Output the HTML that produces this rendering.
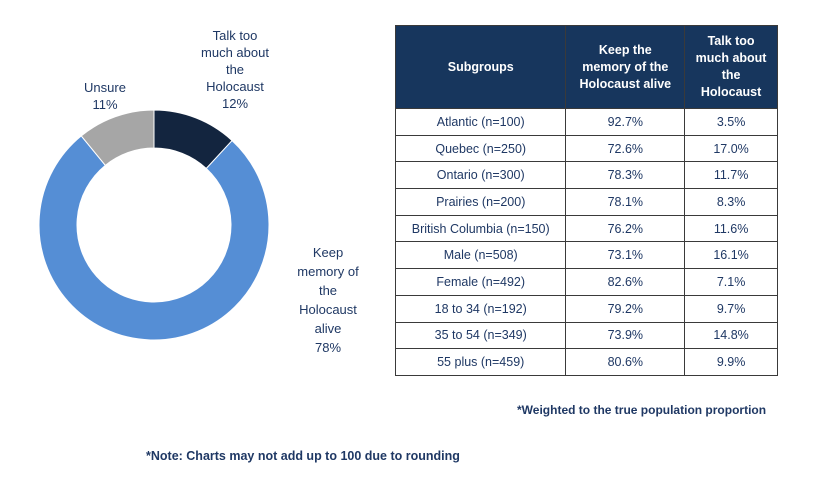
<!DOCTYPE html>
<html><head><meta charset="utf-8"><style>
body{margin:0;background:#fff;width:823px;height:486px;position:relative;font-family:"Liberation Sans",sans-serif;overflow:hidden}
.lbl{position:absolute;color:#1f3864;font-size:13px;text-align:center;line-height:17px}
table{position:absolute;left:395px;top:25px;width:383px;border-collapse:collapse;font-size:12.5px;color:#1f3864}
th{background:#17365d;color:#fff;font-weight:bold;height:80px;border:1.5px solid #3a3a3a;line-height:17px;font-size:12.5px}
td{height:25.7px;border:1.5px solid #3a3a3a;text-align:center;padding:0}
.note{position:absolute;color:#1f3864;font-weight:bold;font-size:12px}
</style></head><body>
<svg id="donut" width="823" height="486" style="position:absolute;left:0;top:0"></svg>
<div class="lbl" style="left:190px;top:27px;width:90px">Talk too<br>much about<br>the<br>Holocaust<br>12%</div>
<div class="lbl" style="left:75px;top:79px;width:60px">Unsure<br>11%</div>
<div class="lbl" style="left:278px;top:243px;width:100px;line-height:19px">Keep<br>memory of<br>the<br>Holocaust<br>alive<br>78%</div>
<table>
<colgroup><col style="width:171px"><col style="width:119px"><col style="width:93px"></colgroup>
<tr><th>Subgroups</th><th>Keep the<br>memory of the<br>Holocaust alive</th><th>Talk too<br>much about<br>the<br>Holocaust</th></tr>
<tr><td>Atlantic (n=100)</td><td>92.7%</td><td>3.5%</td></tr>
<tr><td>Quebec (n=250)</td><td>72.6%</td><td>17.0%</td></tr>
<tr><td>Ontario (n=300)</td><td>78.3%</td><td>11.7%</td></tr>
<tr><td>Prairies (n=200)</td><td>78.1%</td><td>8.3%</td></tr>
<tr><td>British Columbia (n=150)</td><td>76.2%</td><td>11.6%</td></tr>
<tr><td>Male (n=508)</td><td>73.1%</td><td>16.1%</td></tr>
<tr><td>Female (n=492)</td><td>82.6%</td><td>7.1%</td></tr>
<tr><td>18 to 34 (n=192)</td><td>79.2%</td><td>9.7%</td></tr>
<tr><td>35 to 54 (n=349)</td><td>73.9%</td><td>14.8%</td></tr>
<tr><td>55 plus (n=459)</td><td>80.6%</td><td>9.9%</td></tr>
</table>
<div class="note" style="left:517px;top:403px">*Weighted to the true population proportion</div>
<div class="note" style="left:146px;top:449px;font-size:12.5px">*Note: Charts may not add up to 100 due to rounding</div>
<script>
const categories=["Talk too much about the Holocaust","Keep memory of the Holocaust alive","Unsure"];
const values=[12,78,11];
const colors=["#13253f","#558ed5","#a6a6a6"];
const svg=document.getElementById('donut');
const cx=154,cy=225,R=115,r=77;
const total=values.reduce((a,b)=>a+b,0);
let a0=0;
function pt(rad,a){return [cx+rad*Math.sin(a),cy-rad*Math.cos(a)];}
values.forEach((v,i)=>{
  const a1=a0+v/total*2*Math.PI;
  const [x1,y1]=pt(R,a0),[x2,y2]=pt(R,a1),[x3,y3]=pt(r,a1),[x4,y4]=pt(r,a0);
  const lg=(a1-a0)>Math.PI?1:0;
  const p=document.createElementNS('http://www.w3.org/2000/svg','path');
  p.setAttribute('d',`M${x1},${y1}A${R},${R} 0 ${lg} 1 ${x2},${y2}L${x3},${y3}A${r},${r} 0 ${lg} 0 ${x4},${y4}Z`);
  p.setAttribute('fill',colors[i]);
  p.setAttribute('stroke','#fff');p.setAttribute('stroke-width','1');
  
  
  svg.appendChild(p);
  a0=a1;
});
</script>
</body></html>
